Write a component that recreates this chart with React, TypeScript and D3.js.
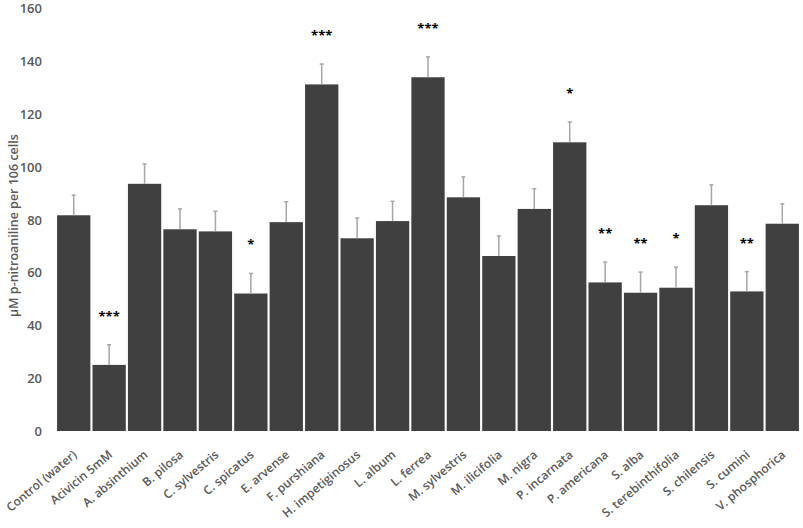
import React from 'react';
import * as d3 from 'd3';

const categories = [
  'Control (water)', 'Acivicin 5mM', 'A. absinthium', 'B. pilosa', 'C. sylvestris',
  'C. spicatus', 'E. arvense', 'F. purshiana', 'H. impetiginosus', 'L. album',
  'L. ferrea', 'M. sylvestris', 'M. ilicifolia', 'M. nigra', 'P. incarnata',
  'P. americana', 'S. alba', 'S. terebinthifolia', 'S. chilensis', 'S. cumini',
  'V. phosphorica',
];
const means = [
  81.6, 25.0, 93.5, 76.3, 75.5, 52.0, 79.0, 131.1, 72.9, 79.4,
  133.8, 88.4, 66.2, 84.0, 109.2, 56.2, 52.3, 54.2, 85.4, 52.8, 78.4,
];
const errors = [
  7.6, 7.6, 7.5, 7.7, 7.6, 7.6, 7.7, 7.7, 7.7, 7.5,
  7.7, 7.7, 7.6, 7.6, 7.7, 7.7, 7.8, 7.8, 7.7, 7.5, 7.5,
];
const stars = [
  '', '***', '', '', '', '*', '', '***', '', '',
  '***', '', '', '', '*', '**', '**', '*', '', '**', '',
];
const yTicks = [0, 20, 40, 60, 80, 100, 120, 140, 160];

const W = 803;
const H = 528;
const margin = { top: 8, right: 3, bottom: 97, left: 56 };

const App: React.FC = () => {
  const x = d3.scaleBand()
    .domain(categories)
    .range([margin.left, W - margin.right])
    .paddingInner(0.06)
    .paddingOuter(0.03);
  const y = d3.scaleLinear().domain([0, 160]).range([H - margin.bottom, margin.top]);
  const font = '"Open Sans", sans-serif';

  return (
    <svg width={W} height={H} style={{ position: 'absolute', left: 0, top: 0, background: '#fff' }}>
      {/* y tick labels */}
      {yTicks.map(t => (
        <text key={t} x={42} y={y(t)} textAnchor="end" dominantBaseline="central"
          fontFamily={font} fontSize={13} fontWeight={600} fill="#595959">{t}</text>
      ))}
      <text transform={`translate(13,${(y(0) + y(160)) / 2 + 6}) rotate(-90)`} textAnchor="middle"
        dominantBaseline="central" fontFamily={font} fontSize={12.5} fontWeight={600} fill="#595959">
        µM p-nitroaniline per 106 cells
      </text>

      {/* bars */}
      {categories.map((c, i) => (
        <rect key={c} x={x(c)} y={y(means[i])} width={x.bandwidth()} height={y(0) - y(means[i])} fill="#404040" />
      ))}

      {/* error bars, upper side only */}
      {categories.map((c, i) => {
        const cx = (x(c) as number) + x.bandwidth() / 2;
        const top = y(means[i] + errors[i]);
        return (
          <g key={c} stroke="#a6a6a6" strokeWidth={1.5}>
            <line x1={cx} x2={cx} y1={y(means[i])} y2={top} />
            <line x1={cx - 2} x2={cx + 2} y1={top} y2={top} />
          </g>
        );
      })}

      {/* significance marks */}
      {categories.map((c, i) => stars[i] ? (
        <text key={c} x={(x(c) as number) + x.bandwidth() / 2} y={y(means[i] + errors[i]) - 24}
          textAnchor="middle" fontFamily={font} fontSize={13} fontWeight={700} fill="#000">
          {stars[i]}
        </text>
      ) : null)}

      {/* x labels */}
      {categories.map(c => {
        const cx = (x(c) as number) + x.bandwidth() / 2 + 4;
        return (
          <text key={c} transform={`translate(${cx},${y(0) + 25}) rotate(-40)`} textAnchor="end"
            fontFamily={font} fontSize={12} fontWeight={600} fill="#595959">{c}</text>
        );
      })}
    </svg>
  );
};

export default App;
